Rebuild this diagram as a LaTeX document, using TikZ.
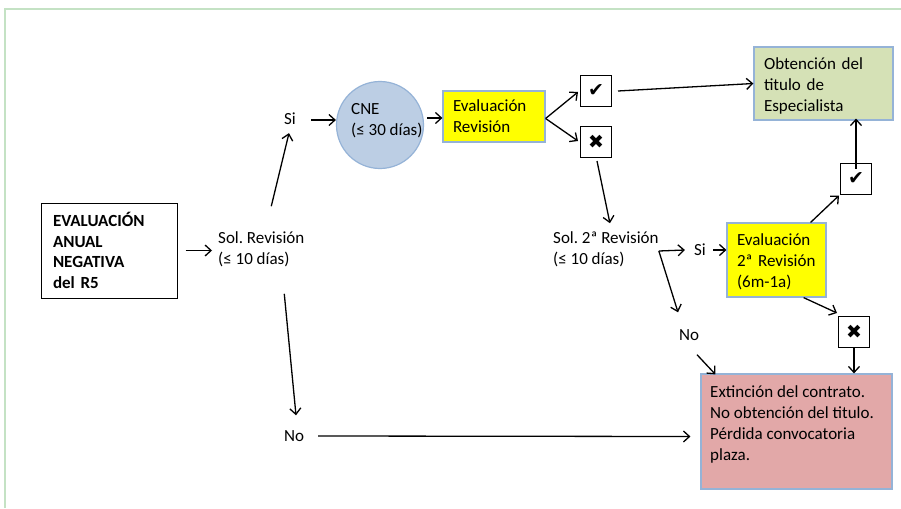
\documentclass[tikz,border=0pt]{standalone}
\usepackage{fontspec}
\setmainfont{Carlito}
\newfontfamily\symfont{DejaVu Sans}
\usetikzlibrary{arrows.meta}
\definecolor{framegreen}{RGB}{196,226,196}
\definecolor{edgeblue}{RGB}{149,179,215}
\definecolor{cnefill}{RGB}{188,206,228}
\definecolor{evalyellow}{RGB}{255,255,0}
\definecolor{titlegreen}{RGB}{213,225,182}
\definecolor{endred}{RGB}{226,168,168}
\frenchspacing

\begin{document}
\begin{tikzpicture}[x=1pt,y=-1pt,
  font=\fontsize{17}{21}\selectfont,
  lbl/.style={inner sep=0pt, align=left},
  flow/.style={-{Straight Barb[length=6pt,width=11pt]}, line width=1.3pt},
  plainbox/.style={draw=black, line width=1pt, fill=white},
  colbox/.style={draw=edgeblue, line width=1.2pt, inner xsep=10pt, inner ysep=0pt, align=left},
  markbox/.style={draw=black, line width=1pt, fill=white, minimum size=31pt, inner sep=0pt,
    font=\symfont\fontsize{19}{19}\selectfont}
]
\useasboundingbox (0,0) rectangle (901,508);
\fill[white] (0,0) rectangle (901,508);
% partial frame: top and left edges
\draw[framegreen, line width=2.5pt] (5,508) -- (5,9) -- (901,9);

% starting point
\node[plainbox, minimum width=136pt, minimum height=95pt, text width=112pt,
      inner xsep=12pt, inner ysep=0pt, align=left, font=\fontsize{17}{20.5}\selectfont\bfseries]
  (neg) at (109,250.5) {EVALUACIÓN\\ANUAL\\NEGATIVA\\del R5};

% first request
\node[lbl, anchor=west] (sol1) at (218,249) {Sol. Revisión\\(≤ 10 días)};
\node[lbl] (si1) at (290,119) {Si};
\node[lbl] (no1) at (294,436) {No};

% committee
\node[circle, draw=edgeblue, fill=cnefill, line width=1.2pt, minimum size=87pt, inner sep=0pt]
  (cne) at (380,125) {};
\node[lbl, anchor=west] (cnetxt) at (351,121) {CNE\\(≤ 30 días)};

\node[colbox, fill=evalyellow, minimum width=102pt, minimum height=51pt, text width=82pt]
  (ev1) at (494,116.5) {Evaluación\\Revisión};
\node[markbox] (ok1) at (596,91) {✔};
\node[markbox] (ko1) at (596,142) {✖};

\node[colbox, fill=titlegreen, minimum width=139pt, minimum height=73pt, text width=119pt]
  (obt) at (823.5,83.5) {\rule{0pt}{16pt}Obtención del\\titulo de\\Especialista};

% second request
\node[lbl, anchor=west] (sol2) at (553,249) {Sol. 2ª Revisión\\(≤ 10 días)};
\node[lbl] (si2) at (700,250) {Si};
\node[lbl] (no2) at (689,335) {No};

\node[colbox, fill=evalyellow, minimum width=99pt, minimum height=74pt, text width=79pt]
  (ev2) at (776.5,260) {\rule{0pt}{16pt}Evaluación\\2ª Revisión\\(6m-1a)};
\node[markbox] (ok2) at (856,178.5) {✔};
\node[markbox] (ko2) at (854,332) {✖};

% final outcome
\node[draw=edgeblue, fill=endred, line width=1.2pt, minimum width=191pt, minimum height=115pt]
  (ext) at (796.5,431.5) {};
\node[lbl, anchor=north west] (exttxt) at (710,385)
  {Extinción del contrato.\\No obtención del titulo.\\Pérdida convocatoria\\plaza.};

% connectors
\draw[flow] ([xshift=8pt]neg.east) -- ([xshift=-6pt]sol1.west |- neg.east);
\draw[flow] ([shift={(10,-25)}]sol1.north) -- ([shift={(-1,8)}]si1.south);
\draw[flow] ([shift={(23,27)}]sol1.south) -- ([shift={(2,-15)}]no1.north);
\draw[flow] ([shift={(15,1)}]si1.east) -- ([shift={(0,-5)}]cne.west);
\draw[flow] ([shift={(3,-7)}]cne.east) -- ([shift={(0,1.5)}]ev1.west);
\draw[flow] ([shift={(0,2)}]ev1.east) -- ([shift={(-2,1)}]ok1.west);
\draw[flow] ([shift={(0,2)}]ev1.east) -- ([shift={(-2,-1)}]ko1.west);
\draw[flow] ([xshift=6pt]ok1.east) -- (obt.west);
\draw[flow] ([shift={(1,3)}]ko1.south) -- ([shift={(4,-8)}]sol2.north);
\draw[flow] ([shift={(0,2)}]sol2.east) -- ([shift={(-9,0)}]si2.west);
\draw[flow] ([shift={(0,2)}]sol2.east) -- ([shift={(-11,-17)}]no2.north);
\draw[flow] ([xshift=7pt]si2.east) -- ([shift={(0,-10)}]ev2.west);
\draw[flow] ([shift={(-16,0)}]ev2.north east) -- ([shift={(-1,1)}]ok2.south west);
\draw[flow] ([yshift=-6pt]ok2.north) -- ([yshift=2pt]ok2.north |- obt.south);
\draw[flow] ([shift={(-23,0)}]ev2.south east) -- ([shift={(-1,-3)}]ko2.north west);
\draw[flow] ([yshift=1pt]ko2.south) -- (ko2.south |- ext.north);
\draw[flow] ([shift={(8,14)}]no2.south) -- ([shift={(15,1)}]ext.north west);
\draw[flow] ([xshift=14pt]no1.east) -- ([shift={(-10,5)}]ext.west);
\end{tikzpicture}
\end{document}
